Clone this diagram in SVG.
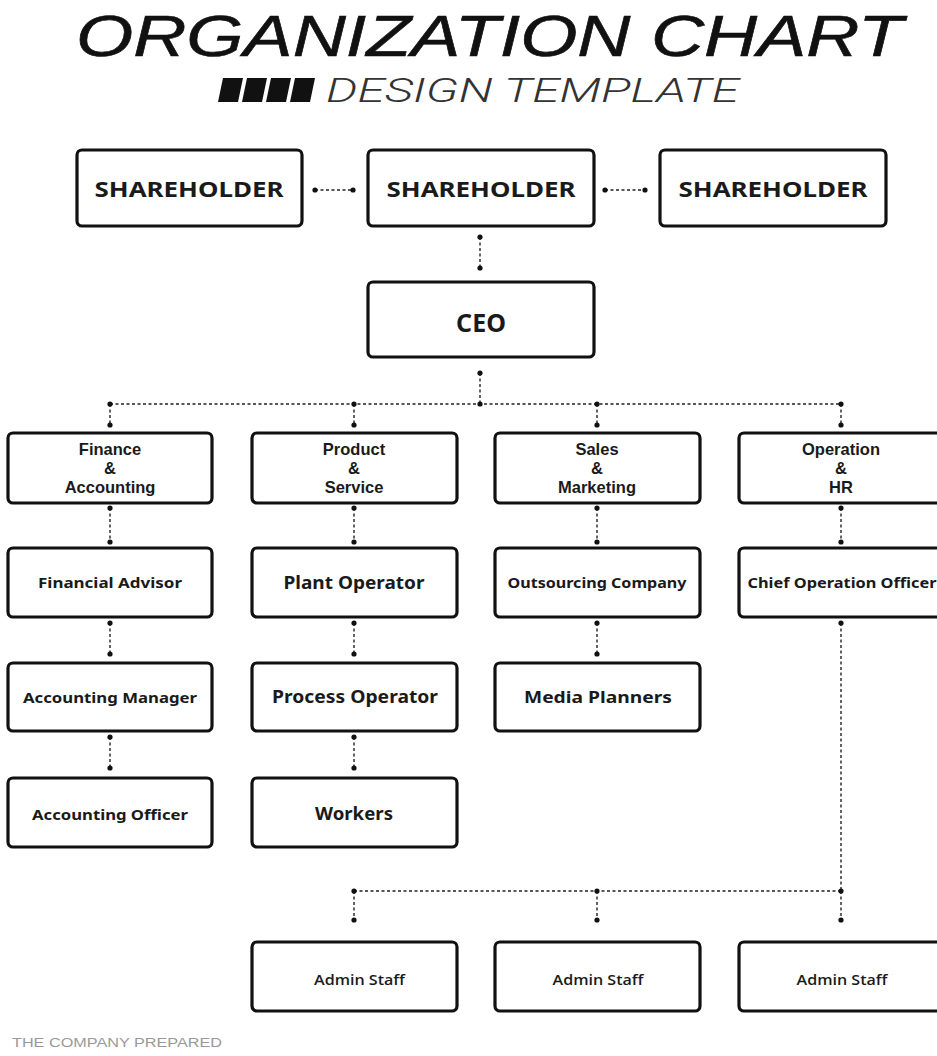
<svg xmlns="http://www.w3.org/2000/svg" width="937" height="1056" viewBox="0 0 937 1056">
<style>
.box{fill:#fff;stroke:#111;stroke-width:3.2}
.lbl{font-family:"Noto Sans","Liberation Sans",sans-serif;font-weight:700;fill:#1a1a1a;text-anchor:middle}
.dep{font-family:"Liberation Sans",Arial,sans-serif;font-weight:700;font-size:16.5px;fill:#1a1a1a;text-anchor:middle}
.adm{font-family:"Open Sans","Liberation Sans",sans-serif;font-weight:600;font-size:15px;fill:#1a1a1a;text-anchor:middle}
.con{stroke:#222;stroke-width:1.4;stroke-dasharray:3 2.5;fill:none}
.dot{fill:#111}
</style>
<rect width="937" height="1056" fill="#fff"/>
<g id="title">
<text x="76" y="56" font-family="'Liberation Sans',Arial,sans-serif" font-style="italic" font-size="58" fill="#111" stroke="#111" stroke-width="0.6" textLength="827" lengthAdjust="spacingAndGlyphs">ORGANIZATION CHART</text>
<polygon points="223,78 243,78 238,102 218,102" fill="#111"/>
<polygon points="247,78 267,78 262,102 242,102" fill="#111"/>
<polygon points="271,78 291,78 286,102 266,102" fill="#111"/>
<polygon points="295,78 315,78 310,102 290,102" fill="#111"/>
<text x="326" y="102" font-family="Roboto,'Liberation Sans',sans-serif" font-weight="300" font-style="italic" font-size="34" fill="#333" textLength="413" lengthAdjust="spacingAndGlyphs">DESIGN TEMPLATE</text>
</g>
<g id="connectors">
<line class="con" x1="315" y1="190" x2="353" y2="190"/>
<line class="con" x1="605" y1="190" x2="645" y2="190"/>
<line class="con" x1="480" y1="237" x2="480" y2="268"/>
<line class="con" x1="480" y1="373" x2="480" y2="404"/>
<line class="con" x1="110" y1="404" x2="841" y2="404"/>
<line class="con" x1="110" y1="404" x2="110" y2="425"/>
<line class="con" x1="354" y1="404" x2="354" y2="425"/>
<line class="con" x1="597" y1="404" x2="597" y2="425"/>
<line class="con" x1="841" y1="404" x2="841" y2="425"/>
<line class="con" x1="110" y1="508" x2="110" y2="542"/>
<line class="con" x1="354" y1="508" x2="354" y2="542"/>
<line class="con" x1="597" y1="508" x2="597" y2="542"/>
<line class="con" x1="841" y1="508" x2="841" y2="542"/>
<line class="con" x1="110" y1="623" x2="110" y2="654"/>
<line class="con" x1="354" y1="623" x2="354" y2="654"/>
<line class="con" x1="597" y1="623" x2="597" y2="654"/>
<line class="con" x1="110" y1="737" x2="110" y2="768"/>
<line class="con" x1="354" y1="737" x2="354" y2="768"/>
<line class="con" x1="841" y1="623" x2="841" y2="891"/>
<line class="con" x1="354" y1="891" x2="841" y2="891"/>
<line class="con" x1="354" y1="891" x2="354" y2="920"/>
<line class="con" x1="597" y1="891" x2="597" y2="920"/>
<line class="con" x1="841" y1="891" x2="841" y2="920"/>
<g class="dot">
<circle cx="315" cy="190" r="2.6"/><circle cx="353" cy="190" r="2.6"/>
<circle cx="605" cy="190" r="2.6"/><circle cx="645" cy="190" r="2.6"/>
<circle cx="480" cy="237" r="2.6"/><circle cx="480" cy="268" r="2.6"/>
<circle cx="480" cy="373" r="2.6"/><circle cx="480" cy="404" r="2.6"/>
<circle cx="110" cy="404" r="2.6"/><circle cx="354" cy="404" r="2.6"/><circle cx="597" cy="404" r="2.6"/><circle cx="841" cy="404" r="2.6"/>
<circle cx="110" cy="425" r="2.6"/><circle cx="354" cy="425" r="2.6"/><circle cx="597" cy="425" r="2.6"/><circle cx="841" cy="425" r="2.6"/>
<circle cx="110" cy="508" r="2.6"/><circle cx="354" cy="508" r="2.6"/><circle cx="597" cy="508" r="2.6"/><circle cx="841" cy="508" r="2.6"/>
<circle cx="110" cy="542" r="2.6"/><circle cx="354" cy="542" r="2.6"/><circle cx="597" cy="542" r="2.6"/><circle cx="841" cy="542" r="2.6"/>
<circle cx="110" cy="623" r="2.6"/><circle cx="354" cy="623" r="2.6"/><circle cx="597" cy="623" r="2.6"/><circle cx="841" cy="623" r="2.6"/>
<circle cx="110" cy="654" r="2.6"/><circle cx="354" cy="654" r="2.6"/><circle cx="597" cy="654" r="2.6"/>
<circle cx="110" cy="737" r="2.6"/><circle cx="354" cy="737" r="2.6"/>
<circle cx="110" cy="768" r="2.6"/><circle cx="354" cy="768" r="2.6"/>
<circle cx="354" cy="891" r="2.6"/><circle cx="597" cy="891" r="2.6"/><circle cx="841" cy="891" r="2.6"/>
<circle cx="354" cy="920" r="2.6"/><circle cx="597" cy="920" r="2.6"/><circle cx="841" cy="920" r="2.6"/>
</g>
</g>
<g id="shareholder1"><rect class="box" x="77" y="150" width="225" height="76" rx="5"/><text class="lbl" x="189" y="197" font-size="22" textLength="189" lengthAdjust="spacingAndGlyphs">SHAREHOLDER</text></g>
<g id="shareholder2"><rect class="box" x="368" y="150" width="226" height="76" rx="5"/><text class="lbl" x="481" y="197" font-size="22" textLength="189" lengthAdjust="spacingAndGlyphs">SHAREHOLDER</text></g>
<g id="shareholder3"><rect class="box" x="660" y="150" width="226" height="76" rx="5"/><text class="lbl" x="773" y="197" font-size="22" textLength="189" lengthAdjust="spacingAndGlyphs">SHAREHOLDER</text></g>
<g id="ceo"><rect class="box" x="368" y="282" width="226" height="75" rx="5"/><text class="lbl" x="481" y="332" font-size="25">CEO</text></g>
<g id="finance"><rect class="box" x="8" y="433" width="204" height="70" rx="5"/><text class="dep" x="110" y="455">Finance</text><text class="dep" x="110" y="474">&amp;</text><text class="dep" x="110" y="493">Accounting</text></g>
<g id="product"><rect class="box" x="252" y="433" width="205" height="70" rx="5"/><text class="dep" x="354" y="455">Product</text><text class="dep" x="354" y="474">&amp;</text><text class="dep" x="354" y="493">Service</text></g>
<g id="sales"><rect class="box" x="495" y="433" width="205" height="70" rx="5"/><text class="dep" x="597" y="455">Sales</text><text class="dep" x="597" y="474">&amp;</text><text class="dep" x="597" y="493">Marketing</text></g>
<g id="operation"><rect class="box" x="739" y="433" width="205" height="70" rx="5"/><text class="dep" x="841" y="455">Operation</text><text class="dep" x="841" y="474">&amp;</text><text class="dep" x="841" y="493">HR</text></g>
<g id="financial-advisor"><rect class="box" x="8" y="548" width="204" height="69" rx="5"/><text class="lbl" x="110" y="588" font-size="14" textLength="144" lengthAdjust="spacingAndGlyphs">Financial Advisor</text></g>
<g id="plant-operator"><rect class="box" x="252" y="548" width="205" height="69" rx="5"/><text class="lbl" x="354" y="589" font-size="17" textLength="141" lengthAdjust="spacingAndGlyphs">Plant Operator</text></g>
<g id="outsourcing"><rect class="box" x="495" y="548" width="205" height="69" rx="5"/><text class="lbl" x="597" y="588" font-size="14" textLength="179" lengthAdjust="spacingAndGlyphs">Outsourcing Company</text></g>
<g id="coo"><rect class="box" x="739" y="548" width="205" height="69" rx="5"/><text class="lbl" x="842" y="588" font-size="14" textLength="189" lengthAdjust="spacingAndGlyphs">Chief Operation Officer</text></g>
<g id="accounting-manager"><rect class="box" x="8" y="663" width="204" height="68" rx="5"/><text class="lbl" x="110" y="703" font-size="15" textLength="174" lengthAdjust="spacingAndGlyphs">Accounting Manager</text></g>
<g id="process-operator"><rect class="box" x="252" y="663" width="205" height="68" rx="5"/><text class="lbl" x="355" y="703" font-size="17" textLength="166" lengthAdjust="spacingAndGlyphs">Process Operator</text></g>
<g id="media-planners"><rect class="box" x="495" y="663" width="205" height="68" rx="5"/><text class="lbl" x="598" y="703" font-size="16" textLength="148" lengthAdjust="spacingAndGlyphs">Media Planners</text></g>
<g id="accounting-officer"><rect class="box" x="8" y="778" width="204" height="69" rx="5"/><text class="lbl" x="110" y="820" font-size="15" textLength="156" lengthAdjust="spacingAndGlyphs">Accounting Officer</text></g>
<g id="workers"><rect class="box" x="252" y="778" width="205" height="69" rx="5"/><text class="lbl" x="354" y="820" font-size="17" textLength="78" lengthAdjust="spacingAndGlyphs">Workers</text></g>
<g id="admin1"><rect class="box" x="252" y="942" width="205" height="69" rx="5"/><text class="adm" x="359.5" y="985" textLength="91" lengthAdjust="spacingAndGlyphs">Admin Staff</text></g>
<g id="admin2"><rect class="box" x="495" y="942" width="205" height="69" rx="5"/><text class="adm" x="598" y="985" textLength="91" lengthAdjust="spacingAndGlyphs">Admin Staff</text></g>
<g id="admin3"><rect class="box" x="739" y="942" width="205" height="69" rx="5"/><text class="adm" x="842" y="985" textLength="91" lengthAdjust="spacingAndGlyphs">Admin Staff</text></g>
<text x="12" y="1047" font-family="'Liberation Sans',Arial,sans-serif" font-size="12" fill="#999" textLength="210" lengthAdjust="spacingAndGlyphs">THE COMPANY PREPARED</text>
</svg>
